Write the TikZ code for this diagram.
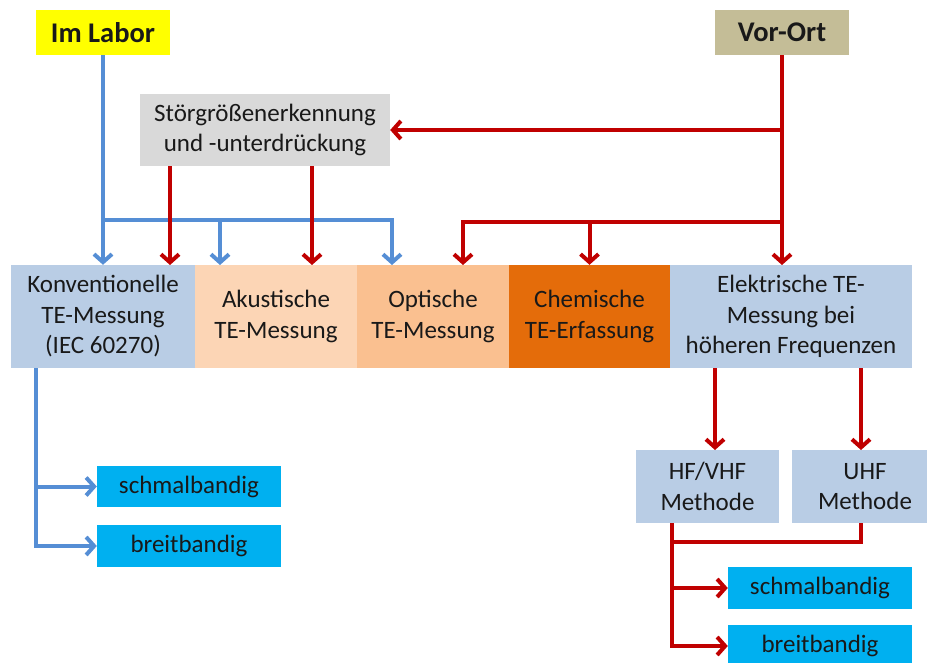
\documentclass[tikz,border=0pt]{standalone}
\usepackage{fontspec}
\setmainfont{Carlito}
\usetikzlibrary{arrows.meta}
\definecolor{gelb}{RGB}{255,255,0}
\definecolor{sand}{RGB}{196,189,151}
\definecolor{grau}{RGB}{217,217,217}
\definecolor{graublau}{RGB}{185,205,229}
\definecolor{hellpfirsich}{RGB}{252,213,181}
\definecolor{pfirsich}{RGB}{250,192,144}
\definecolor{orange}{RGB}{228,108,10}
\definecolor{cyan}{RGB}{0,176,240}
\definecolor{pfeilblau}{RGB}{85,142,213}
\definecolor{pfeilrot}{RGB}{192,0,0}

\begin{document}
\begin{tikzpicture}[x=1pt,y=-1pt,
	feld/.style={rectangle,fill=#1,inner sep=0pt,align=center,text=black!90,font=\fontsize{25}{30.5}\selectfont},
	kopf/.style={font=\fontsize{28.5}{32}\selectfont\bfseries,minimum width=134pt,minimum height=45pt},
	blau/.style={draw=pfeilblau,line width=4pt},
	rot/.style={draw=pfeilrot,line width=4pt},
	spitze/.style={-{Straight Barb[length=8pt,width=18pt]}}]
	\useasboundingbox[fill=white] (0,0) rectangle (927,663);
	\node[feld=gelb,kopf] (labor) at (103,32.5) {Im Labor};
	\node[feld=sand,kopf] (vorort) at (782,32.5) {Vor-Ort};
	\node[feld=grau,minimum width=250pt,minimum height=72pt] (stoer) at (265,130) {Störgrößenerkennung\\und -unterdrückung};
	\node[feld=graublau,minimum width=184pt,minimum height=103pt] (konv) at (103,316.5) {Konventionelle\\TE-Messung\\(IEC 60270)};
	\node[feld=hellpfirsich,minimum width=162pt,minimum height=103pt] (akust) at (276,316.5) {Akustische\\TE-Messung};
	\node[feld=pfirsich,minimum width=152pt,minimum height=103pt] (opt) at (433,316.5) {Optische\\TE-Messung};
	\node[feld=orange,minimum width=161pt,minimum height=103pt] (chem) at (589.5,316.5) {Chemische\\TE-Erfassung};
	\node[feld=graublau,minimum width=242pt,minimum height=103pt] (elek) at (791,316.5) {Elektrische TE-\\Messung bei\\höheren Frequenzen};
	\node[feld=graublau,minimum width=143pt,minimum height=73pt] (hfvhf) at (707.5,486.5) {HF/VHF\\Methode};
	\node[feld=graublau,minimum width=146pt,minimum height=73pt] (uhf) at (865,486.5) {UHF\\Methode};
	\node[feld=cyan,minimum width=184pt,minimum height=41pt] (lschmal) at (189,486.5) {schmalbandig};
	\node[feld=cyan,minimum width=184pt,minimum height=42pt] (lbreit) at (189,546) {breitbandig};
	\node[feld=cyan,minimum width=184pt,minimum height=42pt] (rschmal) at (820,588) {schmalbandig};
	\node[feld=cyan,minimum width=184pt,minimum height=42pt] (rbreit) at (820,646) {breitbandig};

	\coordinate (bknick) at (103,220);
	\coordinate (bak) at (220,265);
	\coordinate (bop) at (392,265);
	\coordinate (rko) at (170,265);
	\coordinate (rak) at (312,265);
	\coordinate (rknick) at (782,222);
	\coordinate (rop) at (463,265);
	\coordinate (rel) at (782,265);
	\coordinate (rhf) at (715,450);
	\coordinate (ruh) at (861,450);
	\coordinate (rsam) at (672,542);
	\coordinate (lx) at (36,368);

	\draw[blau,spitze] (labor) -- (konv);
	\draw[blau,spitze] (bknick) -| (bop);
	\draw[blau,spitze] (bak |- bknick) -- (bak);
	\draw[rot,spitze] (vorort) -- (rel);
	\draw[rot,spitze] (vorort.south |- stoer.east) -- (stoer.east);
	\draw[rot,spitze] (stoer.south -| rko) -- (rko);
	\draw[rot,spitze] (stoer.south -| rak) -- (rak);
	\draw[rot,spitze] (rknick) -| (rop);
	\draw[rot,spitze] (rknick -| chem) -- (chem);
	\draw[rot,spitze] (elek.south -| rhf) -- (rhf);
	\draw[rot,spitze] (elek.south -| ruh) -- (ruh);
	\draw[rot] (uhf.south -| ruh) |- (rsam);
	\draw[rot,spitze] (hfvhf.south -| rsam) |- (rschmal);
	\draw[rot,spitze] (hfvhf.south -| rsam) |- (rbreit);
	\draw[blau,spitze] (konv.south -| lx) |- (lschmal);
	\draw[blau,spitze] (konv.south -| lx) |- (lbreit);
\end{tikzpicture}
\end{document}
